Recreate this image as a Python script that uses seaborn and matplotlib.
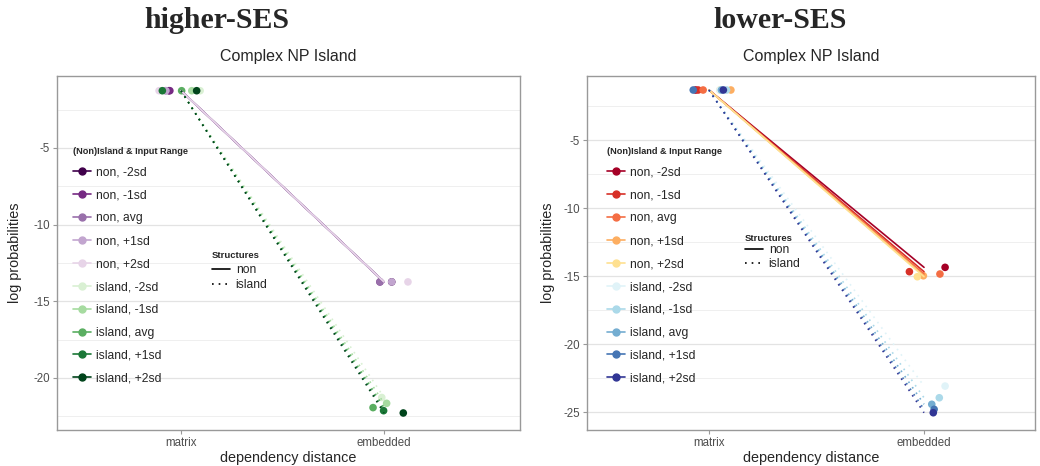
import pandas as pd
import seaborn as sns
import matplotlib.pyplot as plt
from matplotlib.lines import Line2D

sns.set_style("white")
plt.rcParams.update({
    "font.family": ["Liberation Sans", "DejaVu Sans"],
    "axes.unicode_minus": False,
})

# ---- data ----
groups = ["non, -2sd", "non, -1sd", "non, avg", "non, +1sd", "non, +2sd",
          "island, -2sd", "island, -1sd", "island, avg", "island, +1sd", "island, +2sd"]
distances = ["matrix", "embedded"]

# higher-SES panel: log probabilities per group
hi_matrix = [-1.27, -1.27, -1.27, -1.27, -1.27, -1.27, -1.27, -1.27, -1.27, -1.27]
hi_embedded = [-13.74, -13.74, -13.74, -13.74, -13.74, -21.28, -21.66, -21.94, -22.14, -22.29]

# lower-SES panel
lo_matrix = [-1.32, -1.32, -1.32, -1.32, -1.32, -1.32, -1.32, -1.32, -1.32, -1.32]
lo_embedded = [-14.36, -14.68, -14.85, -14.98, -15.05, -23.09, -23.95, -24.43, -24.80, -25.05]

# horizontal jitter of the points (category units)
hi_jit_matrix = [-0.06, -0.055, -0.075, -0.075, -0.108, 0.094, 0.053, 0.003, -0.092, 0.077]
hi_jit_embedded = [0.038, -0.02, -0.02, 0.038, 0.118, -0.011, 0.013, -0.054, -0.002, 0.095]
lo_jit_matrix = [-0.062, -0.05, -0.027, 0.102, 0.051, 0.051, 0.082, 0.058, -0.073, 0.067]
lo_jit_embedded = [0.098, -0.068, 0.074, -0.003, -0.031, 0.098, 0.071, 0.036, 0.047, 0.043]

hi_colors = ["#40004b", "#762a83", "#9970ab", "#c2a5cf", "#e7d4e8",
             "#d9f0d3", "#a6dba0", "#5aae61", "#1b7837", "#00441b"]
lo_colors = ["#a50026", "#d73027", "#f46d43", "#fdae61", "#fee090",
             "#e0f3f8", "#abd9e9", "#74add1", "#4575b4", "#313695"]


def make_df(matrix_vals, embedded_vals, jit_m, jit_e):
    rows = []
    for i, g in enumerate(groups):
        struct = g.split(",")[0]
        rows.append({"group": g, "structure": struct, "x": 0, "logp": matrix_vals[i], "jit": jit_m[i]})
        rows.append({"group": g, "structure": struct, "x": 1, "logp": embedded_vals[i], "jit": jit_e[i]})
    df = pd.DataFrame(rows)
    df["xj"] = df["x"] + df["jit"]
    return df


def draw_panel(ax, df, colors, xlim, ylim, yticks, leg1_pos, leg2_pos, leg2_space, ylab_x):
    pal = dict(zip(groups, colors))
    for y in yticks:
        ax.axhline(y, color="#e3e3e3", lw=0.9, zorder=0)
        ax.axhline(y + 2.5, color="#ececec", lw=0.6, zorder=0)
    ax.axhline(yticks[-1] - 2.5, color="#ececec", lw=0.6, zorder=0)

    sns.scatterplot(data=df, x="xj", y="logp", hue="group", hue_order=groups,
                    palette=pal, s=30, linewidth=0, legend=False, ax=ax, zorder=3)
    sns.lineplot(data=df, x="x", y="logp", hue="group", hue_order=groups,
                 palette=pal, style="structure", style_order=["non", "island"],
                 dashes={"non": "", "island": (1, 3)}, estimator=None, sort=False,
                 legend=False, lw=1.2, ax=ax, zorder=4)

    ax.set_xlim(*xlim)
    ax.set_ylim(*ylim)
    ax.set_xticks([0, 1])
    ax.set_xticklabels(distances)
    ax.set_yticks(yticks)
    ax.set_yticklabels([str(v) for v in yticks])
    ax.tick_params(axis="both", labelsize=8.3, labelcolor="#4d4d4d", color="#999999",
                   length=3, width=0.8, pad=2, left=True, bottom=True)
    for s in ax.spines.values():
        s.set_color("#999999")
        s.set_linewidth(1.0)
    ax.grid(False)

    ax.set_xlabel("dependency distance", fontsize=10.4, va="center")
    ax.set_ylabel("log probabilities", fontsize=10.4, va="center")
    ax.xaxis.set_label_coords(0.5, -0.079)
    ax.yaxis.set_label_coords(ylab_x, 0.5)
    ax.text(0.5, 1 + 19 / 354, "Complex NP Island", transform=ax.transAxes,
            ha="center", va="center", fontsize=11.5)

    h1 = [Line2D([0], [0], color=c, marker="o", markersize=5, lw=1.2) for c in colors]
    leg1 = ax.legend(h1, groups, title="(Non)Island & Input Range", loc="upper left",
                     bbox_to_anchor=leg1_pos, frameon=False, fontsize=8.7,
                     title_fontproperties={"weight": "bold", "size": 6.6},
                     labelspacing=0.9, handlelength=1.45, handletextpad=0.4,
                     borderpad=0, borderaxespad=0, alignment="left")
    ax.add_artist(leg1)
    h2 = [Line2D([0], [0], color="black", lw=1.2),
          Line2D([0], [0], color="black", lw=1.2, ls=(0, (1, 3)))]
    ax.legend(h2, ["non", "island"], title="Structures", loc="upper left",
              bbox_to_anchor=leg2_pos, frameon=False, fontsize=8.7,
              title_fontproperties={"weight": "bold", "size": 6.8},
              labelspacing=leg2_space, handlelength=1.45, handletextpad=0.5,
              borderpad=0, borderaxespad=0, alignment="left")


fig = plt.figure(figsize=(10.4, 4.66), dpi=100)
ax1 = fig.add_axes([57 / 1040, 36 / 466, 463 / 1040, 354 / 466])
ax2 = fig.add_axes([587 / 1040, 36 / 466, 448 / 1040, 354 / 466])

draw_panel(ax1, make_df(hi_matrix, hi_embedded, hi_jit_matrix, hi_jit_embedded), hi_colors,
           (-0.611, 1.670), (-23.4, -0.31), [-5, -10, -15, -20],
           (0.035, 0.8), (0.335, 0.505), 0.3, -0.0907)
draw_panel(ax2, make_df(lo_matrix, lo_embedded, lo_jit_matrix, lo_jit_embedded), lo_colors,
           (-0.567, 1.516), (-26.32, -0.29), [-5, -10, -15, -20, -25],
           (0.045, 0.8), (0.353, 0.555), 0.15, -0.087)

fig.text(217 / 1040, 1 - 20 / 466, "higher-SES", ha="center", va="center",
         fontsize=21.5, fontweight="bold", family="Liberation Serif")
fig.text(780 / 1040, 1 - 20 / 466, "lower-SES", ha="center", va="center",
         fontsize=21.5, fontweight="bold", family="Liberation Serif")

fig.savefig("out.png", dpi=100)
